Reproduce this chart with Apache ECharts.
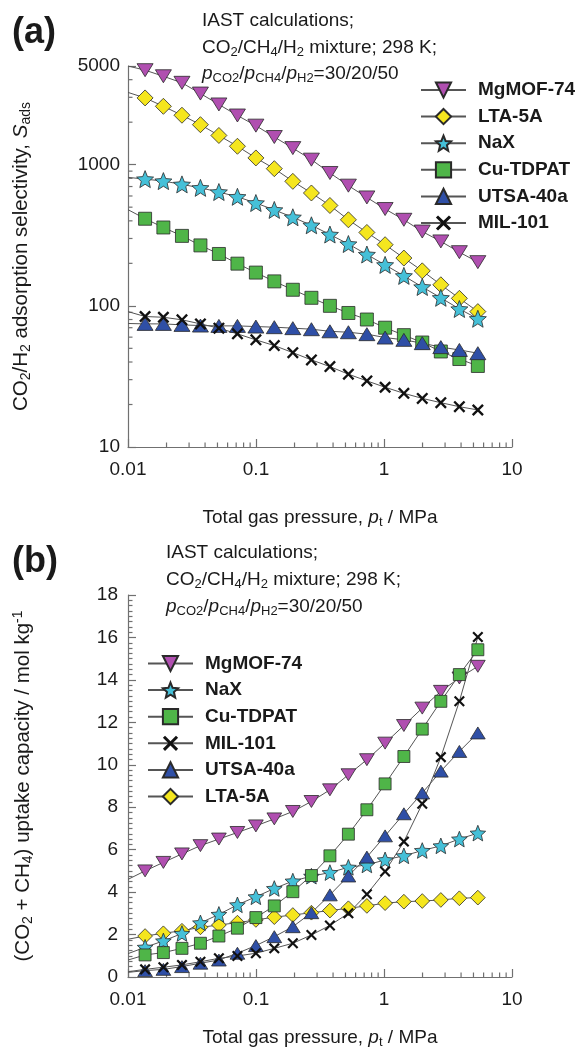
<!DOCTYPE html>
<html>
<head>
<meta charset="utf-8">
<script src="https://cdn.jsdelivr.net/npm/echarts@6/dist/echarts.min.js"></script>
<style>
  html, body { margin: 0; padding: 0; background: #ffffff; }
  #chart { width: 582px; height: 1053px; }
</style>
</head>
<body>
<div id="chart"></div>
<script>
// ---------- data ----------
// total gas pressure of each IAST point, MPa
const pressure = [0.0136, 0.0189, 0.0264, 0.0368, 0.0513, 0.0716, 0.0998, 0.139, 0.194, 0.271,
                  0.378, 0.527, 0.735, 1.02, 1.43, 1.99, 2.78, 3.88, 5.41];
// the calculated curves start at the left edge of the pressure axis
const curveStartPressure = 0.01;

const materials = ['MgMOF-74', 'LTA-5A', 'NaX', 'Cu-TDPAT', 'UTSA-40a', 'MIL-101'];
const legendOrderA = ['MgMOF-74', 'LTA-5A', 'NaX', 'Cu-TDPAT', 'UTSA-40a', 'MIL-101'];
const legendOrderB = ['MgMOF-74', 'NaX', 'Cu-TDPAT', 'MIL-101', 'UTSA-40a', 'LTA-5A'];

// (a) CO2/H2 adsorption selectivity
const selMgMOF74 = [4670, 4230, 3800, 3190, 2670, 2230, 1890, 1570, 1310, 1085, 873, 710, 586, 485, 407, 336, 286, 240, 204];
const selLTA5A   = [2970, 2590, 2240, 1920, 1610, 1350, 1116, 937, 762, 630, 514, 407, 331, 271, 218, 177, 141, 113, 91];
const selNaX     = [790, 765, 725, 685, 640, 592, 535, 478, 424, 372, 320, 274, 231, 195, 163, 136, 114, 95, 81];
const selCuTDPAT = [414, 359, 313, 268, 233, 199, 172, 149, 130, 114, 100, 89, 80, 70, 62, 55, 47.5, 42, 37.5];
const selUTSA40a = [74.5, 74.5, 73.3, 72.5, 72.1, 72.1, 71.3, 70.6, 69.5, 68.3, 66, 65, 63, 59.6, 57.4, 54.4, 51, 48.7, 46.2];
const selMIL101  = [84, 83, 79.6, 74.5, 69.5, 63.3, 57.4, 52.3, 46.6, 41.4, 37.1, 32.8, 29.4, 26.5, 24.0, 22.1, 20.6, 19.3, 18.3];
// curve value at the start pressure, in the order of `materials`
const selCurveStart = [5000, 3250, 813, 480, 75, 91];

// (b) (CO2 + CH4) uptake capacity, mol/kg
const upMgMOF74 = [5.0, 5.4, 5.80, 6.19, 6.50, 6.81, 7.12, 7.45, 7.80, 8.27, 8.82, 9.53, 10.24, 11.02, 11.85, 12.67, 13.46, 14.09, 14.64];
const upLTA5A   = [1.93, 2.06, 2.18, 2.34, 2.45, 2.56, 2.69, 2.82, 2.92, 3.03, 3.13, 3.24, 3.35, 3.48, 3.55, 3.58, 3.63, 3.71, 3.74];
const upNaX     = [1.40, 1.70, 2.05, 2.55, 2.95, 3.40, 3.78, 4.17, 4.52, 4.75, 4.92, 5.17, 5.28, 5.52, 5.71, 5.96, 6.18, 6.50, 6.78];
const upCuTDPAT = [1.04, 1.15, 1.35, 1.59, 1.93, 2.30, 2.80, 3.35, 4.02, 4.78, 5.71, 6.73, 7.88, 9.10, 10.39, 11.68, 12.99, 14.25, 15.42];
const upUTSA40a = [0.30, 0.36, 0.49, 0.65, 0.80, 1.12, 1.48, 1.90, 2.37, 3.03, 3.87, 4.76, 5.65, 6.65, 7.69, 8.67, 9.70, 10.63, 11.50];
const upMIL101  = [0.36, 0.46, 0.57, 0.72, 0.88, 0.99, 1.12, 1.35, 1.59, 1.98, 2.43, 3.0, 3.90, 4.97, 6.38, 8.16, 10.36, 12.99, 16.02];
const upCurveStart = [4.6, 1.78, 1.1, 0.8, 0.22, 0.25];

// axis ranges / tick values
const xTickValues = [0.01, 0.1, 1, 10];
const yTickValuesA = [10, 100, 1000, 5000];
const yTickValuesB = [0, 2, 4, 6, 8, 10, 12, 14, 16, 18];
const xMinorTicks = [0.02, 0.03, 0.04, 0.05, 0.06, 0.07, 0.08, 0.09,
                     0.2, 0.3, 0.4, 0.5, 0.6, 0.7, 0.8, 0.9,
                     2, 3, 4, 5, 6, 7, 8, 9];
const yMinorTicksA = [20, 30, 40, 50, 60, 70, 80, 90,
                      200, 300, 400, 500, 600, 700, 800, 900,
                      2000, 3000, 4000];

// ---------- styling ----------
const FONT = '"Liberation Sans", Arial, Helvetica, sans-serif';
const AXIS_COLOR = '#707070';
const TEXT_COLOR = '#1a1a1a';

const STAR = 'path://M50 0 L63.2 31.8 L97.6 34.5 L71.4 57 L79.4 90.5 L50 72.5 L20.6 90.5 L28.6 57 L2.4 34.5 L36.8 31.8 Z';
const CROSS = 'path://M0 14 L14 0 L50 36 L86 0 L100 14 L64 50 L100 86 L86 100 L50 64 L14 100 L0 86 L36 50 Z';

const look = {
  'MgMOF-74': { color: '#b04fb0', symbol: 'triangle', rotate: 180, size: [16, 13], border: 0.8 },
  'LTA-5A':   { color: '#f5e61e', symbol: 'diamond', rotate: 0, size: [16, 16], border: 0.8 },
  'NaX':      { color: '#45c0d8', symbol: STAR, rotate: 0, size: [17, 17], border: 0.8 },
  'Cu-TDPAT': { color: '#4fb548', symbol: 'rect', rotate: 0, size: [13, 13], border: 0.8 },
  'UTSA-40a': { color: '#2f4fa6', symbol: 'triangle', rotate: 0, size: [16, 13], border: 0.8 },
  'MIL-101':  { color: '#111111', symbol: CROSS, rotate: 0, size: [12, 12], border: 0 }
};

const selByName = { 'MgMOF-74': selMgMOF74, 'LTA-5A': selLTA5A, 'NaX': selNaX,
                    'Cu-TDPAT': selCuTDPAT, 'UTSA-40a': selUTSA40a, 'MIL-101': selMIL101 };
const upByName  = { 'MgMOF-74': upMgMOF74, 'LTA-5A': upLTA5A, 'NaX': upNaX,
                    'Cu-TDPAT': upCuTDPAT, 'UTSA-40a': upUTSA40a, 'MIL-101': upMIL101 };

function richFor(size) {
  const sub = Math.round(size * 0.68);
  return {
    s:   { fontSize: sub, padding: [Math.round(size * 0.47), 0, 0, 0], fontFamily: FONT, color: TEXT_COLOR },
    sup: { fontSize: sub, padding: [0, 0, Math.round(size * 0.47), 0], fontFamily: FONT, color: TEXT_COLOR },
    i:   { fontSize: size, fontStyle: 'italic', fontFamily: FONT, color: TEXT_COLOR }
  };
}
const rich19 = richFor(19);
const rich20 = richFor(20.5);

function curveData(start, values) {
  const pts = [{ value: [curveStartPressure, start], symbol: 'none' }];
  values.forEach((v, k) => pts.push([pressure[k], v]));
  return pts;
}

function materialSeries(name, gridIdx, values, start, scale) {
  const st = look[name];
  return {
    name: name,
    type: 'line',
    xAxisIndex: gridIdx,
    yAxisIndex: gridIdx,
    data: curveData(start, values),
    symbol: st.symbol,
    symbolRotate: st.rotate,
    symbolSize: [st.size[0] * scale, st.size[1] * scale],
    symbolKeepAspect: false,
    showAllSymbol: true,
    smooth: false,
    lineStyle: { color: '#555555', width: 1 },
    itemStyle: { color: st.color, borderColor: '#2a2a2a', borderWidth: st.border, opacity: 1 },
    emphasis: { disabled: true },
    animation: false,
    z: 3
  };
}

// short inward tick marks at the in-between decade values of the log axes
function minorTickSeries(gridIdx, points, dx, dy) {
  return {
    type: 'custom',
    name: 'minor-ticks-' + gridIdx + '-' + (dx ? 'y' : 'x'),
    xAxisIndex: gridIdx,
    yAxisIndex: gridIdx,
    silent: true,
    clip: false,
    animation: false,
    z: 1,
    data: points,
    renderItem: function (params, api) {
      const p = api.coord([api.value(0), api.value(1)]);
      return {
        type: 'line',
        shape: { x1: p[0], y1: p[1], x2: p[0] + dx, y2: p[1] + dy },
        style: { stroke: AXIS_COLOR, lineWidth: 1.2 }
      };
    }
  };
}

function logXAxis(gridIdx, nameGap) {
  return {
    type: 'log',
    gridIndex: gridIdx,
    logBase: 10,
    min: xTickValues[0],
    max: xTickValues[xTickValues.length - 1],
    name: 'Total gas pressure, {i|p}{s|t} / MPa',
    nameLocation: 'middle',
    nameGap: nameGap,
    nameTextStyle: { fontFamily: FONT, fontSize: 19, color: TEXT_COLOR, rich: rich19 },
    axisLine: { show: true, lineStyle: { color: AXIS_COLOR, width: 1.2 } },
    axisTick: { show: true, inside: true, length: 8, lineStyle: { color: AXIS_COLOR, width: 1.2 } },
    minorTick: { show: false },
    splitLine: { show: false },
    axisLabel: {
      fontFamily: FONT, fontSize: 19, color: TEXT_COLOR, margin: 13,
      formatter: function (v) { return String(+v.toPrecision(3)); }
    }
  };
}

const series = [];
materials.forEach((m, k) => series.push(materialSeries(m, 0, selByName[m], selCurveStart[k], 1)));
materials.forEach((m, k) => series.push(materialSeries(m, 1, upByName[m], upCurveStart[k], 0.92)));
series.push(minorTickSeries(0, xMinorTicks.map(v => [v, yTickValuesA[0]]), 0, -4.5));
series.push(minorTickSeries(0, yMinorTicksA.map(v => [xTickValues[0], v]), 4.5, 0));
series.push(minorTickSeries(1, xMinorTicks.map(v => [v, yTickValuesB[0]]), 0, -4.5));

function legendFor(order, left, top) {
  return {
    data: order,
    orient: 'vertical',
    left: left,
    top: top,
    padding: 0,
    itemWidth: 45,
    itemHeight: 19,
    itemGap: 7.6,
    selectedMode: false,
    textStyle: { fontFamily: FONT, fontSize: 19, fontWeight: 'bold', color: TEXT_COLOR, padding: [0, 0, 0, 7] }
  };
}

function noteLines(left, firstY, gap) {
  const lines = [
    'IAST calculations;',
    'CO{s|2}/CH{s|4}/H{s|2} mixture; 298 K;',
    '{i|p}{s|CO2}/{i|p}{s|CH4}/{i|p}{s|H2}=30/20/50'
  ];
  return lines.map((t, k) => ({
    type: 'text',
    x: left,
    y: firstY + k * gap,
    silent: true,
    style: {
      text: t,
      rich: rich19,
      font: '19px ' + FONT,
      fill: TEXT_COLOR,
      align: 'left',
      verticalAlign: 'middle'
    }
  }));
}

const option = {
  backgroundColor: '#ffffff',
  animation: false,
  textStyle: { fontFamily: FONT },
  grid: [
    { left: 128, top: 66, width: 384, height: 381, containLabel: false, outerBoundsMode: 'none' },
    { left: 128, top: 595, width: 384, height: 382, containLabel: false, outerBoundsMode: 'none' }
  ],
  xAxis: [logXAxis(0, 60), logXAxis(1, 50)],
  yAxis: [
    {
      type: 'log',
      gridIndex: 0,
      logBase: 10,
      min: yTickValuesA[0],
      max: yTickValuesA[yTickValuesA.length - 1],
      name: 'CO{s|2}/H{s|2} adsorption selectivity, {i|S}{s|ads}',
      nameLocation: 'middle',
      nameRotate: 90,
      nameGap: 95,
      nameTextStyle: { fontFamily: FONT, fontSize: 20.5, color: TEXT_COLOR, rich: rich20 },
      axisLine: { show: true, lineStyle: { color: AXIS_COLOR, width: 1.2 } },
      axisTick: { show: true, inside: true, length: 8, lineStyle: { color: AXIS_COLOR, width: 1.2 } },
      minorTick: { show: false },
      splitLine: { show: false },
      axisLabel: {
        fontFamily: FONT, fontSize: 19, color: TEXT_COLOR, margin: 8,
        showMaxLabel: true,
        formatter: function (v) { return String(Math.round(v)); }
      }
    },
    {
      type: 'value',
      gridIndex: 1,
      min: yTickValuesB[0],
      max: yTickValuesB[yTickValuesB.length - 1],
      interval: 2,
      name: '(CO{s|2} + CH{s|4}) uptake capacity / mol kg{sup|-1}',
      nameLocation: 'middle',
      nameRotate: 90,
      nameGap: 93,
      nameTextStyle: { fontFamily: FONT, fontSize: 20.5, color: TEXT_COLOR, rich: rich20 },
      axisLine: { show: true, lineStyle: { color: AXIS_COLOR, width: 1.2 } },
      axisTick: { show: true, inside: true, length: 8, lineStyle: { color: AXIS_COLOR, width: 1.2 } },
      minorTick: { show: true, splitNumber: 8, length: 4.5, lineStyle: { color: AXIS_COLOR, width: 1.2 } },
      splitLine: { show: false },
      axisLabel: { fontFamily: FONT, fontSize: 19, color: TEXT_COLOR, margin: 10 }
    }
  ],
  legend: [legendFor(legendOrderA, 420, 80.5), legendFor(legendOrderB, 147, 654)],
  graphic: [
    { type: 'text', x: 12, y: 33, silent: true,
      style: { text: '(a)', font: 'bold 36px ' + FONT, fill: TEXT_COLOR, verticalAlign: 'middle' } },
    { type: 'text', x: 12, y: 562, silent: true,
      style: { text: '(b)', font: 'bold 36px ' + FONT, fill: TEXT_COLOR, verticalAlign: 'middle' } }
  ].concat(noteLines(202, 21, 26.5)).concat(noteLines(166, 553, 27)),
  series: series
};

const chart = echarts.init(document.getElementById('chart'), null, { renderer: 'canvas' });
chart.setOption(option);
</script>
</body>
</html>
